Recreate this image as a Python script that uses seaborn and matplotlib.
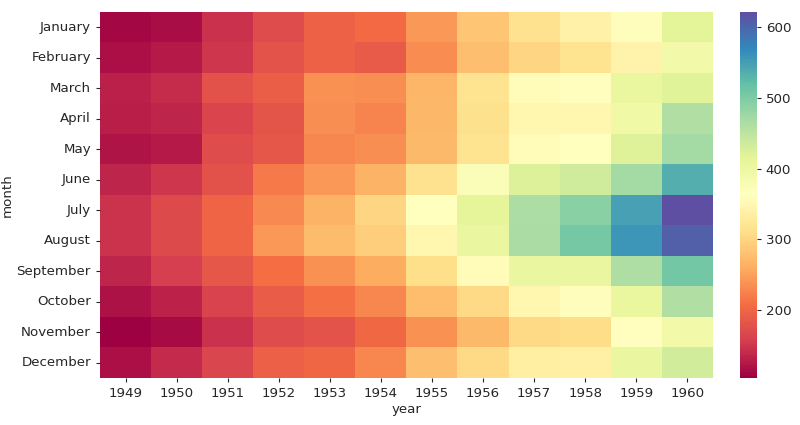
import matplotlib
matplotlib.use("Agg")
import matplotlib.pyplot as plt
import seaborn as sns
import pandas as pd

months = ["January", "February", "March", "April", "May", "June", "July",
          "August", "September", "October", "November", "December"]
years = [1949, 1950, 1951, 1952, 1953, 1954, 1955, 1956, 1957, 1958, 1959, 1960]

# passengers per year (columns), month order as above
p1949 = [112, 118, 132, 129, 121, 135, 148, 148, 136, 119, 104, 118]
p1950 = [115, 126, 141, 135, 125, 149, 170, 170, 158, 133, 114, 140]
p1951 = [145, 150, 178, 163, 172, 178, 199, 199, 184, 162, 146, 166]
p1952 = [171, 180, 193, 181, 183, 218, 230, 242, 209, 191, 172, 194]
p1953 = [196, 196, 236, 235, 229, 243, 264, 272, 237, 211, 180, 201]
p1954 = [204, 188, 235, 227, 234, 264, 302, 293, 259, 229, 203, 229]
p1955 = [242, 233, 267, 269, 270, 315, 364, 347, 312, 274, 237, 278]
p1956 = [284, 277, 317, 313, 318, 374, 413, 405, 355, 306, 271, 306]
p1957 = [315, 301, 356, 348, 355, 422, 465, 467, 404, 347, 305, 336]
p1958 = [340, 318, 362, 348, 363, 435, 491, 505, 404, 359, 310, 337]
p1959 = [360, 342, 406, 396, 420, 472, 548, 559, 463, 407, 362, 405]
p1960 = [417, 391, 419, 461, 472, 535, 622, 606, 508, 461, 390, 432]

cols = [p1949, p1950, p1951, p1952, p1953, p1954,
        p1955, p1956, p1957, p1958, p1959, p1960]
df = pd.DataFrame({y: c for y, c in zip(years, cols)}, index=months)
df.index.name = "month"
df.columns.name = "year"

plt.rcParams["text.color"] = ".15"
plt.rcParams["axes.labelcolor"] = ".15"
plt.rcParams["xtick.color"] = ".15"
plt.rcParams["ytick.color"] = ".15"

fig = plt.figure(figsize=(8, 4.25), dpi=100)
ax = fig.add_axes([0.125, 0.111, 0.766, 0.861])
cax = fig.add_axes([0.925, 0.111, 0.021, 0.861])

sns.heatmap(df, cmap="Spectral", ax=ax, cbar_ax=cax)
ax.tick_params(length=3, labelsize=9.6)
cax.tick_params(length=3, labelsize=9.6)
cax.set_yticks([200, 300, 400, 500, 600])
for s in cax.spines.values():
    s.set_visible(False)
ax.set_xlabel("year", fontsize=9.6, labelpad=2)
ax.set_ylabel("month", fontsize=9.6, labelpad=2)

fig.savefig("out.png", dpi=100)
